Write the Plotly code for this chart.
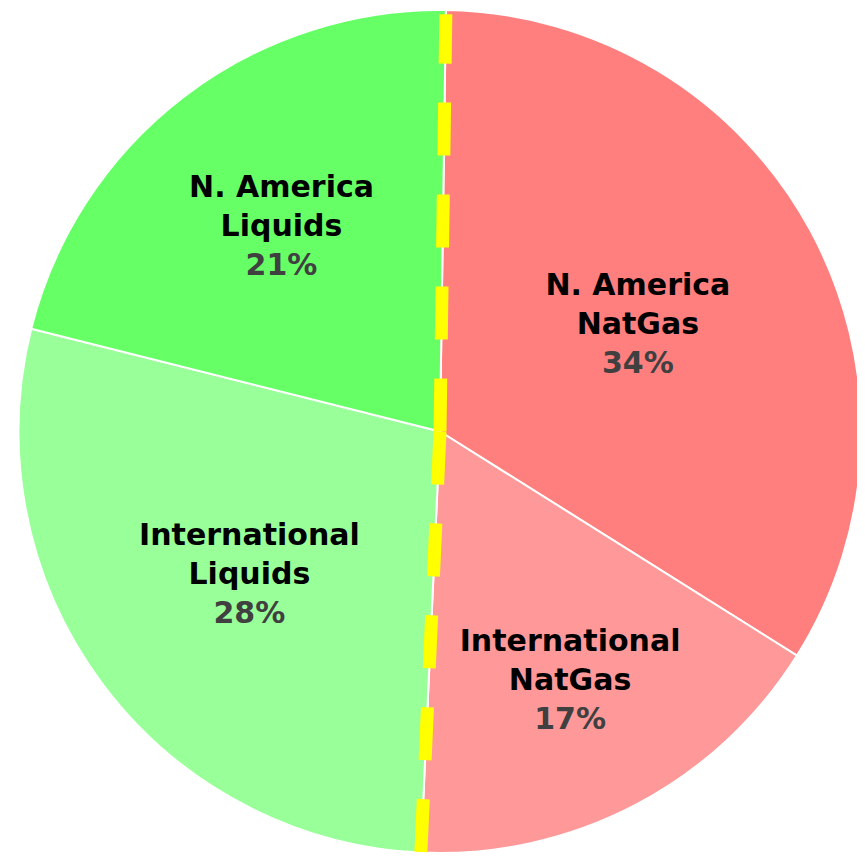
import math
import plotly.graph_objects as go

labels = ["N. America<br>NatGas", "International<br>NatGas", "International<br>Liquids", "N. America<br>Liquids"]
values = [33.7, 16.8, 28.2, 21.3]
colors = ["#FF7F7F", "#FF9999", "#99FF99", "#66FF66"]
start_angle = 0.8

# split between the gas slices and the liquids slices
natgas_share = (values[0] + values[1]) / sum(values)
split_angle = start_angle + 360 * natgas_share

# page body adds an 8px offset, so the figure is shrunk by that much
W, H = 857, 850
margin = dict(l=10, r=3, t=2, b=5)
radius = min(W - margin["l"] - margin["r"], H - margin["t"] - margin["b"]) / 2

fig = go.Figure()
fig.add_trace(go.Pie(
    labels=labels,
    values=values,
    sort=False,
    direction="clockwise",
    rotation=start_angle,
    marker=dict(colors=colors, line=dict(color="white", width=2)),
    texttemplate="<b>%{label}</b><br><b><span style='color:#404040'>%{percent:.0%}</span></b>",
    textposition="inside",
    insidetextorientation="horizontal",
    textfont=dict(family="DejaVu Sans", size=30, color="black"),
    hoverinfo="label+percent",
    showlegend=False,
))


def spoke(angle, reach):
    a = math.radians(angle)
    return dict(
        type="line", xref="paper", yref="paper",
        xsizemode="pixel", ysizemode="pixel",
        xanchor=0.5, yanchor=0.5,
        x0=0, y0=0,
        x1=reach * radius * math.sin(a), y1=reach * radius * math.cos(a),
        line=dict(color="#FFFF00", width=13, dash="53px,39px"),
        layer="above",
    )


fig.update_layout(
    width=W,
    height=H,
    margin=margin,
    paper_bgcolor="white",
    plot_bgcolor="white",
    shapes=[spoke(start_angle, 0.99), spoke(split_angle, 1.03)],
)

fig.write_html("out.html")
